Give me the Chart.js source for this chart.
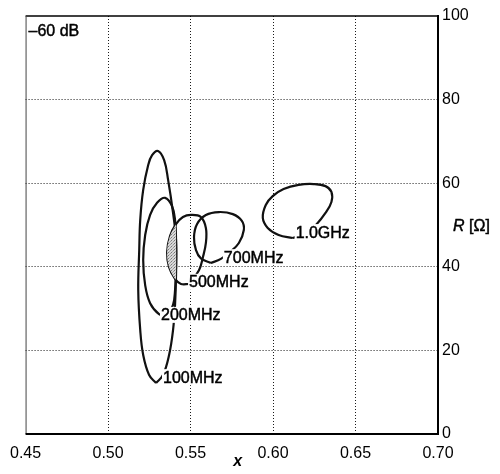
<!DOCTYPE html>
<html><head><meta charset="utf-8">
<script src="https://cdn.jsdelivr.net/npm/chart.js@4/dist/chart.umd.min.js"></script>
<style>html,body{margin:0;padding:0;background:#fff}#wrap{width:500px;height:474px}</style>
</head><body><div id="wrap"><canvas id="c" width="500" height="474"></canvas></div>
<script>
// ---- data ----
const xTickValues = [0.45, 0.50, 0.55, 0.60, 0.65, 0.70];
const rTickValues = [0, 20, 40, 60, 80, 100];
const curveNames = ['100MHz', '200MHz', '500MHz', '700MHz', '1.0GHz'];

const x100 = [0.5291, 0.5333, 0.5370, 0.5394, 0.5406, 0.5412, 0.5412, 0.5394, 0.5364, 0.5340, 0.5303, 0.5267, 0.5243, 0.5213, 0.5195, 0.5189, 0.5183, 0.5195, 0.5213, 0.5249];
const r100 = [12.2, 14.1, 18.9, 24.9, 30.9, 38.0, 46.4, 52.9, 60.8, 65.5, 67.7, 66.7, 64.3, 58.4, 51.2, 44.0, 34.4, 24.9, 18.9, 14.1];

const x200 = [0.5358, 0.5394, 0.5406, 0.5412, 0.5412, 0.5406, 0.5388, 0.5346, 0.5297, 0.5255, 0.5225, 0.5213, 0.5225, 0.5255, 0.5309];
const r200 = [28.2, 30.9, 34.4, 40.4, 46.4, 51.2, 54.5, 56.5, 55.3, 52.4, 47.6, 41.6, 35.6, 31.3, 28.7];

const x500 = [0.5491, 0.5551, 0.5575, 0.5593, 0.5593, 0.5563, 0.5503, 0.5454, 0.5412, 0.5376, 0.5358, 0.5370, 0.5406, 0.5442];
const r500 = [35.9, 39.2, 42.3, 45.7, 49.3, 51.9, 52.4, 51.9, 50.2, 47.4, 43.5, 39.9, 37.1, 35.9];

const x700 = [0.5623, 0.5684, 0.5738, 0.5793, 0.5823, 0.5811, 0.5756, 0.5672, 0.5593, 0.5539, 0.5521, 0.5533, 0.5563];
const r700 = [40.9, 41.9, 43.5, 45.7, 48.8, 51.0, 52.6, 53.1, 52.4, 50.2, 47.1, 44.0, 42.0];

const x1000 = [0.6119, 0.6197, 0.6264, 0.6318, 0.6354, 0.6354, 0.6318, 0.6246, 0.6155, 0.6064, 0.5998, 0.5956, 0.5938, 0.5968, 0.6034];
const r1000 = [46.9, 47.8, 50.2, 52.9, 55.5, 57.9, 59.3, 59.8, 59.6, 58.6, 56.9, 54.8, 51.7, 49.3, 47.6];

// overlap (shaded) region
const shadedX = [0.5412, 0.5376, 0.5358, 0.5370, 0.5406, 0.5412];
const shadedR = [50.2, 47.4, 43.5, 39.9, 37.1, 37.1];

// label anchors (data coordinates, left edge of text)
const labelX = [0.5333, 0.5321, 0.5491, 0.5702, 0.6137];
const labelR = [13.6, 28.5, 36.4, 42.3, 48.3];

const panelText = '\u201360 dB';
const xTitle = 'x';
const rTitle = ['R', ' [\u03A9]'];

// ---- drawing ----
const FONT = '"Liberation Sans", Arial, Helvetica, sans-serif';
const INK = '#000';

function loop(xs, rs) {
  const pts = xs.map((x, i) => ({ x: x, y: rs[i] }));
  pts.push({ x: xs[0], y: rs[0] });
  return pts;
}

const pc = document.createElement('canvas');
pc.width = 3; pc.height = 3;
const pctx = pc.getContext('2d');
pctx.fillStyle = '#d8d8d8';
pctx.fillRect(0, 0, 3, 3);
pctx.fillStyle = '#7a7a7a';
pctx.fillRect(0, 0, 1, 1);
pctx.fillStyle = '#999';
pctx.fillRect(2, 1, 1, 1);
pctx.fillStyle = '#aaa';
pctx.fillRect(1, 2, 1, 1);
const stipple = document.getElementById('c').getContext('2d').createPattern(pc, 'repeat');

const loops = [[x100, r100], [x200, r200], [x500, r500], [x700, r700], [x1000, r1000]];
const datasets = [{
  label: 'overlap',
  data: loop(shadedX, shadedR),
  showLine: true, borderWidth: 0, borderColor: 'rgba(0,0,0,0)',
  backgroundColor: stipple, fill: 'shape', pointRadius: 0, tension: 0.4
}].concat(loops.map((l, i) => ({
  label: curveNames[i],
  data: loop(l[0], l[1]),
  showLine: true, borderColor: '#111', borderWidth: 2.2,
  pointRadius: 0, tension: 0.4, fill: false
})));

function heavyText(ctx, t, x, y) {
  ctx.lineWidth = 0.45;
  ctx.strokeStyle = INK;
  ctx.strokeText(t, x, y);
  ctx.fillText(t, x, y);
}

const decor = {
  id: 'decor',
  afterDatasetsDraw(chart) {
    const ctx = chart.ctx, xs = chart.scales.x, ys = chart.scales.y;
    ctx.save();
    ctx.font = '16px ' + FONT;
    ctx.textBaseline = 'middle';
    ctx.textAlign = 'left';
    curveNames.forEach((name, i) => {
      const px = xs.getPixelForValue(labelX[i]);
      const py = ys.getPixelForValue(labelR[i]);
      const w = ctx.measureText(name).width;
      ctx.fillStyle = '#fff';
      ctx.fillRect(px - 1, py - 8, w + 2, 16);
      ctx.fillStyle = INK;
      heavyText(ctx, name, px, py + 1);
    });
    ctx.restore();
  },
  afterDraw(chart) {
    const ctx = chart.ctx, a = chart.chartArea;
    ctx.save();
    // frame
    ctx.strokeStyle = '#000';
    ctx.lineWidth = 1.5;
    ctx.beginPath(); ctx.moveTo(a.left, a.top); ctx.lineTo(a.right, a.top); ctx.stroke();
    ctx.lineWidth = 1; ctx.strokeStyle = '#444';
    ctx.beginPath(); ctx.moveTo(a.left + 0.5, a.top); ctx.lineTo(a.left + 0.5, a.bottom); ctx.stroke();
    ctx.lineWidth = 2; ctx.strokeStyle = '#000';
    ctx.beginPath(); ctx.moveTo(a.right, a.top - 1); ctx.lineTo(a.right, a.bottom + 1); ctx.stroke();
    ctx.beginPath(); ctx.moveTo(a.left, a.bottom); ctx.lineTo(a.right + 1, a.bottom); ctx.stroke();
    // texts
    ctx.fillStyle = INK;
    ctx.textBaseline = 'middle';
    ctx.textAlign = 'left';
    ctx.font = '16px ' + FONT;
    heavyText(ctx, panelText, a.left + 3, a.top + 16);
    // R [Ω]
    ctx.font = 'italic 16px ' + FONT;
    const rx = a.right + 15, ry = (a.top + a.bottom) / 2 + 2;
    heavyText(ctx, rTitle[0], rx, ry);
    const w0 = ctx.measureText(rTitle[0]).width;
    ctx.font = '16px ' + FONT;
    heavyText(ctx, rTitle[1], rx + w0, ry);
    // x title
    ctx.font = 'italic bold 16px ' + FONT;
    ctx.textAlign = 'center';
    ctx.fillText(xTitle, (a.left + a.right) / 2 + 6, a.bottom + 28);
    ctx.restore();
  }
};

function gridColor(ctx) {
  const n = ctx.chart ? ctx.scale.ticks.length : 0;
  if (ctx.index === 0 || ctx.index === n - 1) return 'rgba(0,0,0,0)';
  return '#1a1a1a';
}

new Chart(document.getElementById('c'), {
  type: 'scatter',
  data: { datasets: datasets },
  options: {
    responsive: false, animation: false, devicePixelRatio: 1,
    layout: { padding: { left: 24, top: 16, right: 0, bottom: 0 } },
    plugins: { legend: { display: false }, tooltip: { enabled: false }, title: { display: false } },
    scales: {
      x: {
        type: 'linear', position: 'bottom', min: 0.45, max: 0.70,
        afterBuildTicks: s => { s.ticks = xTickValues.map(v => ({ value: v })); },
        afterFit: s => { s.height = 40; },
        ticks: { callback: v => Number(v).toFixed(2), color: INK, font: { family: FONT, size: 16 }, padding: 10, maxRotation: 0, autoSkip: false },
        grid: { color: gridColor, lineWidth: 1, drawTicks: false },
        border: { display: false, dash: [1, 2] }
      },
      y: {
        type: 'linear', position: 'right', min: 0, max: 100,
        afterBuildTicks: s => { s.ticks = rTickValues.map(v => ({ value: v })); },
        afterFit: s => { s.width = 62; },
        ticks: { color: INK, font: { family: FONT, size: 16 }, padding: 4, autoSkip: false },
        grid: { color: gridColor, lineWidth: 1, drawTicks: false },
        border: { display: false, dash: [1, 2] }
      }
    }
  },
  plugins: [decor]
});
</script>
</body></html>
